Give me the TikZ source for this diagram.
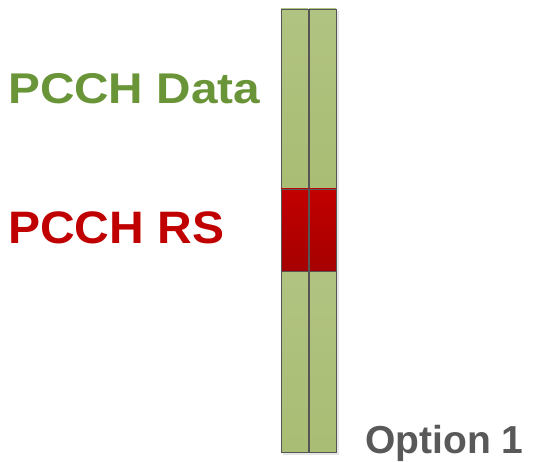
\documentclass[tikz,border=0pt]{standalone}
\usepackage{fontspec}
\setmainfont{Liberation Sans}
\definecolor{cgreen}{HTML}{B1C381}
\definecolor{cgreenb}{HTML}{A9BD74}
\definecolor{cred}{HTML}{C20000}
\definecolor{credb}{HTML}{A50000}
\definecolor{cedge}{HTML}{555555}
\definecolor{tgreen}{HTML}{6A9438}
\definecolor{tred}{HTML}{C00000}
\definecolor{tgray}{HTML}{595959}
\tikzset{
  seg/.style={draw=cedge, line width=0.9pt},
  gseg/.style={seg, top color=cgreen, bottom color=cgreenb},
  rseg/.style={seg, top color=cred, bottom color=credb},
  shadow/.style={fill=black!10, draw=none},
  lbl/.style={anchor=base west, inner sep=0pt}
}
\begin{document}
\begin{tikzpicture}[x=1pt,y=-1pt]
\useasboundingbox (0,0) rectangle (535,462);
% shadows
\fill[shadow] (283,11) rectangle (310.5,455);
\fill[shadow] (311,11) rectangle (339,455);
% left column
\path[gseg] (281,9) rectangle (308,189);
\path[rseg] (281,189) rectangle (308,271);
\path[gseg] (281,271) rectangle (308,452);
% right column
\path[gseg] (309,9) rectangle (336,189);
\path[rseg] (309,189) rectangle (336,271);
\path[gseg] (309,271) rectangle (336,452);
% labels
\node[lbl, text=tgreen, font=\fontsize{43}{43}\selectfont\bfseries] (data) at (8,103.3) {\scalebox{1.11}[1]{PCCH Data}};
\node[lbl, text=tred, font=\fontsize{45.5}{45.5}\selectfont\bfseries] (rs) at (8,243.3) {\scalebox{1.055}[1]{PCCH RS}};
\node[lbl, text=tgray, font=\fontsize{39}{39}\selectfont\bfseries] (opt) at (365,453.5) {Option 1};
\end{tikzpicture}
\end{document}
